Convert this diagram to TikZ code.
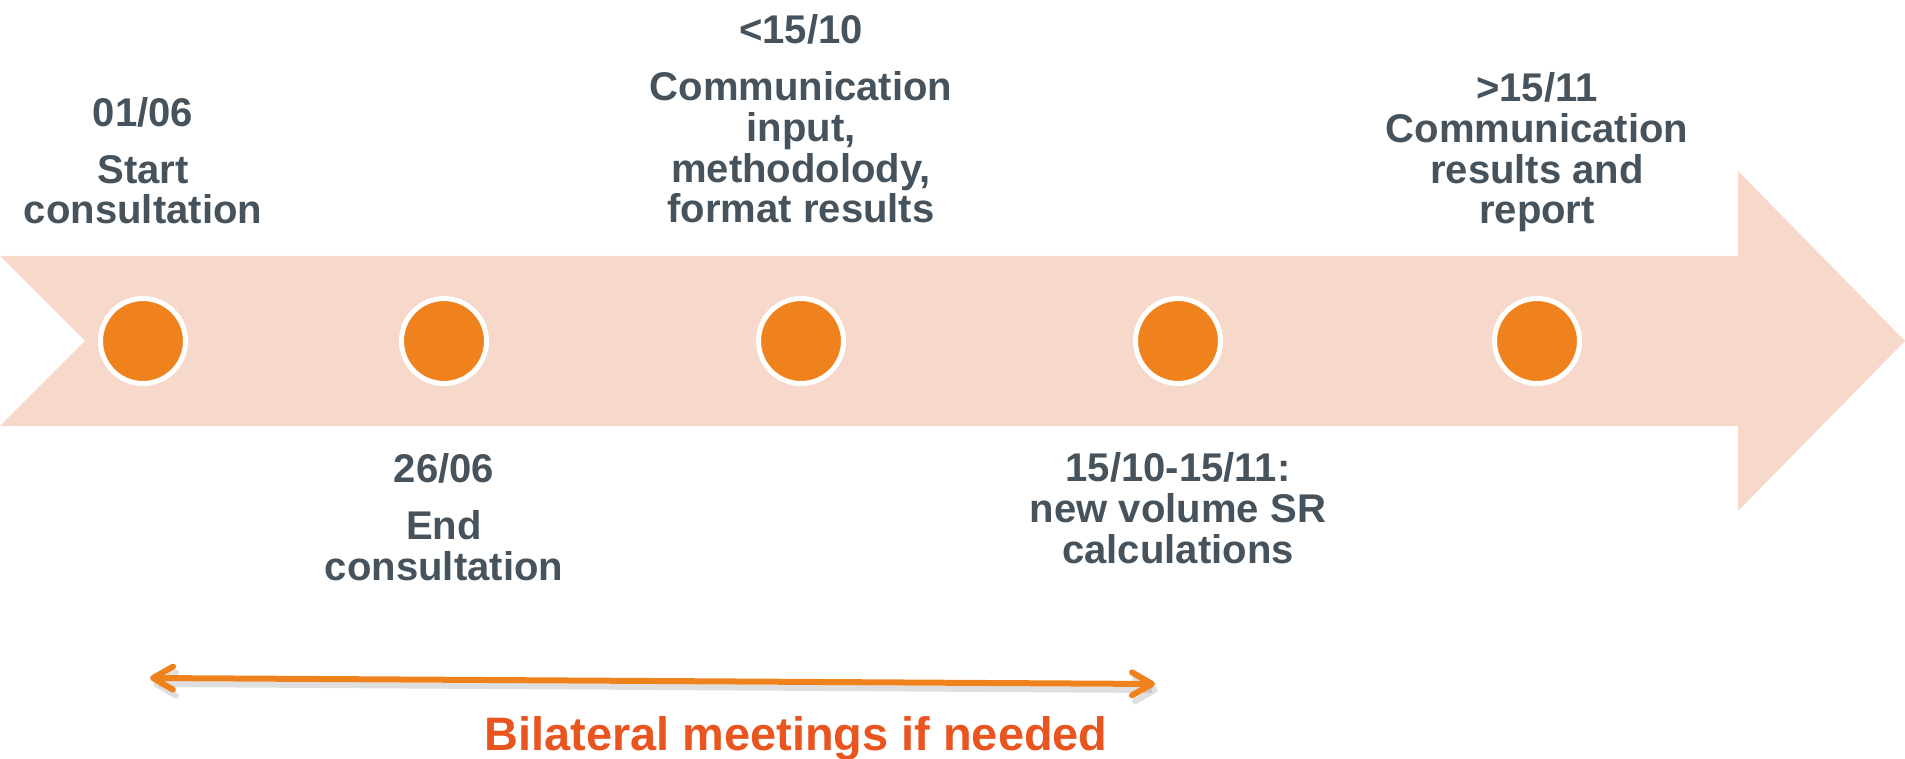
\documentclass[tikz,border=0pt]{standalone}
\usepackage{fontspec}
\setmainfont{Liberation Sans}
\usetikzlibrary{arrows.meta}

\definecolor{peach}{RGB}{247,217,204}
\definecolor{dotorange}{RGB}{240,130,30}
\definecolor{slate}{RGB}{70,83,92}
\definecolor{redorange}{RGB}{233,84,31}

\begin{document}
\begin{tikzpicture}[x=0.02cm,y=-0.02cm,
    milestone/.style={circle,fill=dotorange,draw=white,line width=0.1cm,minimum size=1.7cm,inner sep=0pt},
    tltext/.style={text=slate,font=\bfseries\fontsize{22.8pt}{23.3pt}\selectfont,align=center,inner sep=0pt,anchor=base},
    barb/.tip={Straight Barb[round,length=0.4cm,width=0.46cm]}]
        \useasboundingbox (0,0) rectangle (1905,759);
        % the big arrow
        \fill[peach] (0,256) -- (1738,256) -- (1738,171) -- (1905,341) -- (1738,511) -- (1738,426) -- (0,426) -- (85,341) -- cycle;
        \foreach \x/\n in {143/1,444/2,801/3,1178/4,1537/5}
            \node[milestone] (m\n) at (\x,341) {};
        % above (anchored on the last line)
        \node[tltext] (t1) at (143,224) {01/06\\[0.32cm]Start\\consultation};
        \node[tltext] (t3) at (801,223) {<15/10\\[0.32cm]Communication\\input,\\methodolody,\\format results};
        \node[tltext] (t5) at (1537,224) {>15/11\\Communication\\results and\\report};
        % below
        \node[tltext] (t2) at (444,580) {26/06\\[0.32cm]End\\consultation};
        \node[tltext] (t4) at (1178,563) {15/10-15/11:\\new volume SR\\calculations};
        % bilateral meetings
        \coordinate (bl) at (150,678);
        \coordinate (br) at (1155,684);
        \draw[gray,opacity=0.25,line width=0.12cm,barb-barb] ([shift={(3,6)}]bl) -- ([shift={(3,6)}]br);
        \draw[dotorange,line width=0.12cm,barb-barb] (bl) -- (br);
        \node[text=redorange,font=\bfseries\fontsize{26.7pt}{28pt}\selectfont,inner sep=0pt,anchor=base] (meet) at (796,750) {Bilateral meetings if needed};
\end{tikzpicture}
\end{document}
